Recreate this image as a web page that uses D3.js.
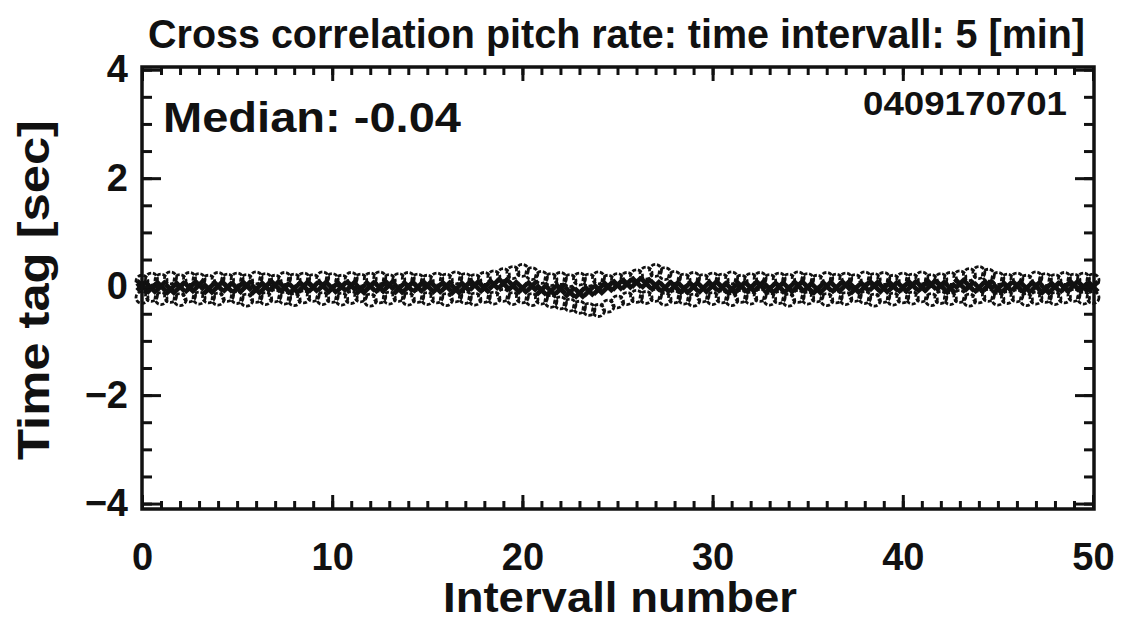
<!DOCTYPE html>
<html>
<head>
<meta charset="utf-8">
<script src="https://cdn.jsdelivr.net/npm/d3@7"></script>
<style>
  body { margin: 0; background: #fff; }
  text { fill: #111; }
</style>
</head>
<body>
<div id="chart"></div>
<script>
// ----- data, one value per half interval, x = 0 .. 50

var upper = [
  0.10,0.14,0.12,0.16,0.11,0.15,0.13,0.10,0.15,0.12,
  0.14,0.11,0.16,0.13,0.10,0.15,0.12,0.14,0.11,0.16,
  0.13,0.10,0.15,0.12,0.14,0.16,0.11,0.13,0.15,0.12,
  0.10,0.14,0.12,0.16,0.13,0.11,0.15,0.18,0.22,0.26,
  0.30,0.24,0.17,0.13,0.15,0.11,0.14,0.12,0.16,0.10,
  0.13,0.15,0.20,0.25,0.30,0.24,0.17,0.12,0.15,0.11,
  0.14,0.12,0.16,0.10,0.13,0.15,0.11,0.14,0.12,0.16,
  0.13,0.10,0.15,0.12,0.14,0.11,0.16,0.13,0.15,0.10,
  0.14,0.12,0.16,0.11,0.13,0.15,0.18,0.22,0.26,0.21,
  0.15,0.12,0.14,0.10,0.16,0.13,0.11,0.15,0.12,0.14,
  0.12
];

var middle = [
  0.02,-0.03,0.01,-0.05,0.00,-0.02,0.03,-0.04,0.01,-0.01,
  -0.03,0.02,-0.05,0.00,0.03,-0.02,-0.04,0.01,-0.01,0.02,
  -0.03,0.00,0.02,-0.05,0.01,-0.02,0.03,-0.04,0.00,-0.01,
  0.02,-0.03,0.01,-0.05,0.00,0.03,-0.02,0.04,0.06,0.02,
  -0.03,0.01,-0.06,-0.08,-0.04,-0.10,-0.12,-0.08,-0.05,0.00,
  0.03,0.05,0.08,0.06,0.02,-0.02,0.01,-0.04,0.00,-0.03,
  0.02,-0.01,-0.05,0.01,-0.02,0.03,-0.04,0.00,-0.03,0.02,
  -0.01,-0.05,0.01,-0.02,0.03,-0.04,0.00,0.02,-0.03,0.01,
  -0.02,0.03,-0.01,0.04,0.02,-0.03,0.05,0.01,-0.02,0.03,
  -0.04,0.00,0.02,-0.03,0.01,-0.05,0.00,-0.02,0.03,-0.01,
  0.00
];

var lower = [
  -0.20,-0.16,-0.22,-0.18,-0.24,-0.17,-0.21,-0.19,-0.23,-0.16,
  -0.20,-0.25,-0.18,-0.22,-0.17,-0.21,-0.24,-0.19,-0.16,-0.22,
  -0.18,-0.23,-0.20,-0.17,-0.25,-0.19,-0.21,-0.16,-0.23,-0.18,
  -0.22,-0.19,-0.24,-0.17,-0.20,-0.23,-0.18,-0.21,-0.16,-0.22,
  -0.19,-0.24,-0.21,-0.27,-0.30,-0.34,-0.38,-0.42,-0.44,-0.36,
  -0.28,-0.22,-0.18,-0.20,-0.16,-0.23,-0.19,-0.21,-0.25,-0.17,
  -0.22,-0.19,-0.24,-0.18,-0.21,-0.16,-0.23,-0.20,-0.25,-0.18,
  -0.21,-0.17,-0.24,-0.19,-0.22,-0.16,-0.20,-0.25,-0.18,-0.23,
  -0.19,-0.21,-0.17,-0.24,-0.20,-0.22,-0.18,-0.25,-0.19,-0.16,
  -0.23,-0.20,-0.17,-0.24,-0.21,-0.18,-0.22,-0.19,-0.16,-0.21,
  -0.20
];

var xTicks = [0, 10, 20, 30, 40, 50];
var yTicks = [-4, -2, 0, 2, 4];

var title = "Cross correlation pitch rate: time intervall: 5 [min]";
var medianLabel = "Median: -0.04";
var runId = "0409170701";

// ----- layout

var width = 1124, height = 620;
var plotLeft = 142, plotRight = 1094, plotTop = 67, plotBottom = 509;

var x = d3.scaleLinear().domain([0, 50]).range([plotLeft, plotRight - 1]);
var y = d3.scaleLinear().domain([-4.1, 4.05]).range([plotBottom, plotTop]);

var svg = d3.select("#chart").append("svg")
    .attr("width", width)
    .attr("height", height);

var font = "'Liberation Sans', Arial, sans-serif";

// ----- data marks (drawn first, the frame goes on top)

var plot = svg.append("g");

function pts(vals) {
  return vals.map(function(v, i) { return { x: i * 0.5, y: v }; });
}

var cross = d3.symbol().type(d3.symbolCross).size(110);

plot.selectAll("path.mid")
    .data(pts(middle))
    .enter()
    .append("path")
    .attr("class", "mid")
    .attr("d", cross)
    .attr("transform", function(d) { return "translate(" + x(d.x) + "," + y(d.y) + ") rotate(45)"; })
    .attr("fill", "#111");

[upper, lower].forEach(function(series) {
  plot.append("g").selectAll("circle")
      .data(pts(series))
      .enter()
      .append("circle")
      .attr("cx", function(d) { return x(d.x); })
      .attr("cy", function(d) { return y(d.y); })
      .attr("r", 6)
      .attr("fill", "none")
      .attr("stroke", "#111")
      .attr("stroke-width", 2.8)
      .attr("stroke-dasharray", "4,1.8");
});

// ----- axes: inward ticks on all four sides

function styleAxis(g) {
  g.select(".domain").remove();
  g.selectAll(".tick line").attr("stroke", "#111").attr("stroke-width", 3);
  g.selectAll("text")
    .attr("fill", "#111")
    .style("font-family", font)
    .style("font-weight", "bold")
    .style("font-size", "38px");
}

var xMinor = d3.range(0, 51, 1);
var yMinor = d3.range(-4, 4.01, 0.5);

svg.append("g").attr("transform", "translate(0," + plotBottom + ")")
    .call(d3.axisBottom(x).tickValues(xMinor).tickFormat("").tickSize(-8))
    .call(styleAxis);
svg.append("g").attr("transform", "translate(0," + plotBottom + ")")
    .call(d3.axisBottom(x).tickValues(xTicks).tickFormat(d3.format("d")).tickSize(-14).tickPadding(34))
    .call(styleAxis);
svg.append("g").attr("transform", "translate(0," + plotTop + ")")
    .call(d3.axisTop(x).tickValues(xMinor).tickFormat("").tickSize(-8))
    .call(styleAxis);
svg.append("g").attr("transform", "translate(0," + plotTop + ")")
    .call(d3.axisTop(x).tickValues(xTicks).tickFormat("").tickSize(-14))
    .call(styleAxis);

svg.append("g").attr("transform", "translate(" + plotLeft + ",0)")
    .call(d3.axisLeft(y).tickValues(yMinor).tickFormat("").tickSize(-10))
    .call(styleAxis);
svg.append("g").attr("transform", "translate(" + plotLeft + ",0)")
    .call(d3.axisLeft(y).tickValues(yTicks).tickFormat(d3.format("d")).tickSize(-19).tickPadding(14))
    .call(styleAxis);
svg.append("g").attr("transform", "translate(" + plotRight + ",0)")
    .call(d3.axisRight(y).tickValues(yMinor).tickFormat("").tickSize(-10))
    .call(styleAxis);
svg.append("g").attr("transform", "translate(" + plotRight + ",0)")
    .call(d3.axisRight(y).tickValues(yTicks).tickFormat("").tickSize(-19))
    .call(styleAxis);

// frame
svg.append("rect")
    .attr("x", plotLeft)
    .attr("y", plotTop)
    .attr("width", plotRight - plotLeft)
    .attr("height", plotBottom - plotTop)
    .attr("fill", "none")
    .attr("stroke", "#111")
    .attr("stroke-width", 3.5);

// ----- texts

svg.append("text")
    .attr("x", 148)
    .attr("y", 48)
    .attr("textLength", 937)
    .attr("lengthAdjust", "spacingAndGlyphs")
    .style("font-family", font)
    .style("font-weight", "bold")
    .style("font-size", "40px")
    .text(title);

svg.append("text")
    .attr("x", 620)
    .attr("y", 612)
    .attr("text-anchor", "middle")
    .attr("textLength", 354)
    .attr("lengthAdjust", "spacingAndGlyphs")
    .style("font-family", font)
    .style("font-weight", "bold")
    .style("font-size", "42px")
    .text("Intervall number");

svg.append("text")
    .attr("transform", "translate(49,290) rotate(-90)")
    .attr("text-anchor", "middle")
    .attr("textLength", 340)
    .attr("lengthAdjust", "spacingAndGlyphs")
    .style("font-family", font)
    .style("font-weight", "bold")
    .style("font-size", "44px")
    .text("Time tag [sec]");

svg.append("text")
    .attr("x", 163)
    .attr("y", 132)
    .attr("textLength", 298)
    .attr("lengthAdjust", "spacingAndGlyphs")
    .style("font-family", font)
    .style("font-size", "43px")
    .style("font-weight", "bold")
    .text(medianLabel);

svg.append("text")
    .attr("x", 1067)
    .attr("y", 115)
    .attr("text-anchor", "end")
    .attr("textLength", 204)
    .attr("lengthAdjust", "spacingAndGlyphs")
    .style("font-family", font)
    .style("font-size", "33px")
    .style("font-weight", "bold")
    .text(runId);
</script>
</body>
</html>
